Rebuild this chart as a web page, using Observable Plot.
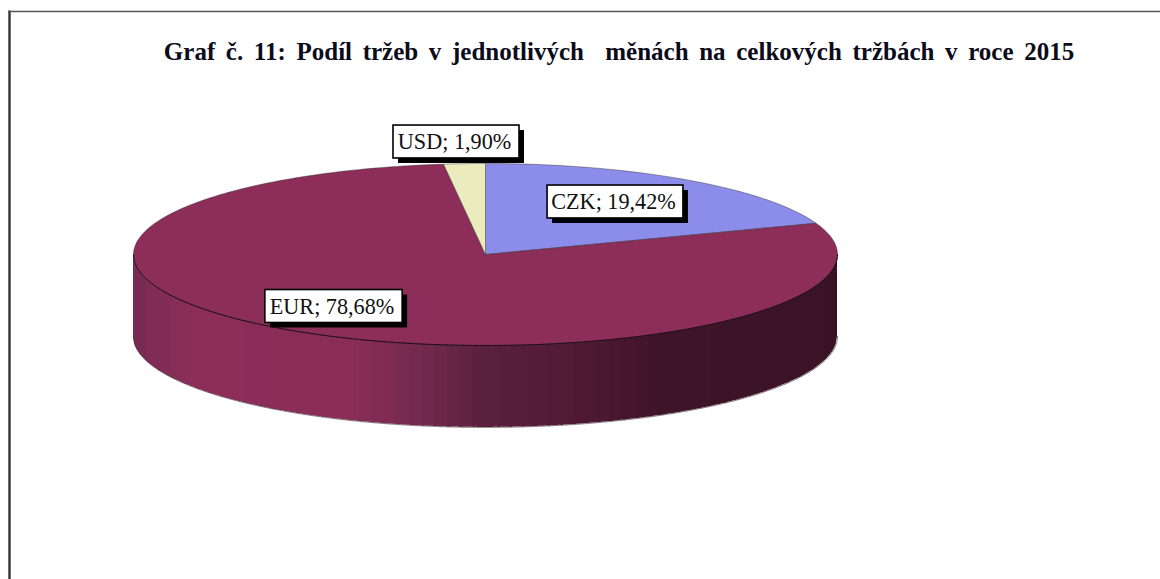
<!DOCTYPE html>
<html><head><meta charset="utf-8">
<script src="https://cdn.jsdelivr.net/npm/d3@7"></script>
<script src="https://cdn.jsdelivr.net/npm/@observablehq/plot@0.6"></script>
<style>html,body{margin:0;padding:0;background:#fff;overflow:hidden}</style>
</head><body><div id="chart"></div>
<script>
const categories = ["CZK", "USD", "EUR"];
const shares = [19.42, 1.90, 78.68];
const sliceColors = ["#8c8cea", "#ebebbd", "#8c2d5a"];
const labelTexts = ["CZK; 19,42%", "USD; 1,90%", "EUR; 78,68%"];
const titleText = "Graf č. 11: Podíl tržeb v jednotlivých  měnách na celkových tržbách v roce 2015";

const W = 1160, H = 579;
const depth = 0.9;            // thickness of the disc in y units
const serif = "'Liberation Serif','Times New Roman',serif";
const px = x => (x - 485) / 352, py = y => (y - 254) / 91;   // pixel position to pie units

// slices: clockwise from 12 o'clock: CZK, EUR, then USD closing the circle
const order = [0, 2, 1];
let acc = 0;
const slices = order.map(i => {
  const a0 = acc / 100 * 2 * Math.PI;
  acc += shares[i];
  return {name: categories[i], color: sliceColors[i], a0, a1: acc / 100 * 2 * Math.PI};
});
const polygons = slices.flatMap(s => {
  const n = Math.ceil((s.a1 - s.a0) * 60);
  const pts = [{name: s.name, color: s.color, u: 0, v: 0}];
  for (let k = 0; k <= n; ++k) {
    const a = s.a0 + (s.a1 - s.a0) * k / n;
    pts.push({name: s.name, color: s.color, u: Math.sin(a), v: -Math.cos(a)});
  }
  pts.push({name: s.name, color: s.color, u: 0, v: 0});
  return pts;
});

// side wall, drawn as vertical bands that follow the front edge
const ramp = d3.scaleLinear()
  .domain([-1, -0.95, -0.8, -0.38, -0.185, -0.014, 0.21, 0.5, 1])
  .range(["#732a50", "#7f2c56", "#8c2d5a", "#8a2d59", "#73294f", "#5c2040", "#521b36", "#3f1428", "#3a1226"]);
const bandCount = 56;
const bands = d3.range(bandCount).flatMap(b => {
  const lo = -1 + 2 * b / bandCount, hi = -1 + 2 * (b + 1.2) / bandCount;
  const color = ramp(-1 + 2 * (b + 0.5) / bandCount);
  return d3.range(13).map(k => {
    const u = Math.min(1, lo + (hi - lo) * k / 12);
    const v = Math.sqrt(Math.max(0, 1 - u * u));
    return {band: b, color, u, v, v2: v + depth};
  });
});
const frontEdge = d3.range(0, 181).map(k => {
  const a = k / 180 * Math.PI - Math.PI / 2;
  return {u: Math.sin(a), v: Math.cos(a), v2: Math.cos(a) + depth};
});

// labels, anchored in the pie's own units
const labels = [
  {text: labelTexts[0], u: px(615), v: py(201.5), hw: 0.193},
  {text: labelTexts[1], u: px(456), v: py(141.5), hw: 0.179},
  {text: labelTexts[2], u: px(333.5), v: py(306), hw: 0.195}
];
const boxHalfV = 0.181;
const boxes = labels.map(l => ({...l, x1: l.u - l.hw, x2: l.u + l.hw, y1: l.v - boxHalfV, y2: l.v + boxHalfV}));

const plot = Plot.plot({
  width: W, height: H,
  marginLeft: 0, marginRight: 0, marginTop: 0, marginBottom: 0,
  x: {type: "linear", domain: [-1, 1], range: [133, 837], axis: null},
  y: {type: "linear", domain: [-1, 1], range: [163, 345], axis: null},
  style: {background: "#fff", fontFamily: serif},
  marks: [
    Plot.ruleX([0], {x: () => px(9), y1: () => py(10.5), y2: () => py(H), stroke: "#333", strokeWidth: 2.4}),
    Plot.ruleY([0], {y: () => py(11), x1: () => px(8), x2: () => px(W), stroke: "#555", strokeWidth: 1.6}),
    Plot.text([titleText], {
      x: () => px(618.5), y: () => py(51),
      text: d => d, fontSize: 25, fontWeight: "bold", fill: "#0b0b1a", textAnchor: "middle",
      fontFamily: serif
    }),
    Plot.areaY(bands, {x: "u", y1: "v", y2: "v2", z: "band", fill: "color"}),
    Plot.line(frontEdge, {x: "u", y: "v2", stroke: "#2a1a22", strokeWidth: 1, strokeOpacity: 0.55}),
    Plot.line(polygons, {x: "u", y: "v", z: "name", fill: "color", stroke: "#333", strokeWidth: 0.7, strokeOpacity: 0.65}),
    Plot.line(frontEdge, {x: "u", y: "v", stroke: "#1c0d15", strokeWidth: 1, strokeDasharray: "5 1"}),
    Plot.rect(boxes, {x1: "x1", x2: "x2", y1: "y1", y2: "y2", fill: "#000", dx: 5, dy: 5}),
    Plot.rect(boxes, {x1: "x1", x2: "x2", y1: "y1", y2: "y2", fill: "#fff", stroke: "#000", strokeWidth: 1.6}),
    Plot.text(labels, {x: "u", y: "v", text: "text", fontSize: 22.2, fill: "#111", fontFamily: serif, dx: -2})
  ]
});
plot.querySelector('g[aria-label="text"]').style.wordSpacing = "4.4px";
document.getElementById("chart").appendChild(plot);
</script></body></html>
